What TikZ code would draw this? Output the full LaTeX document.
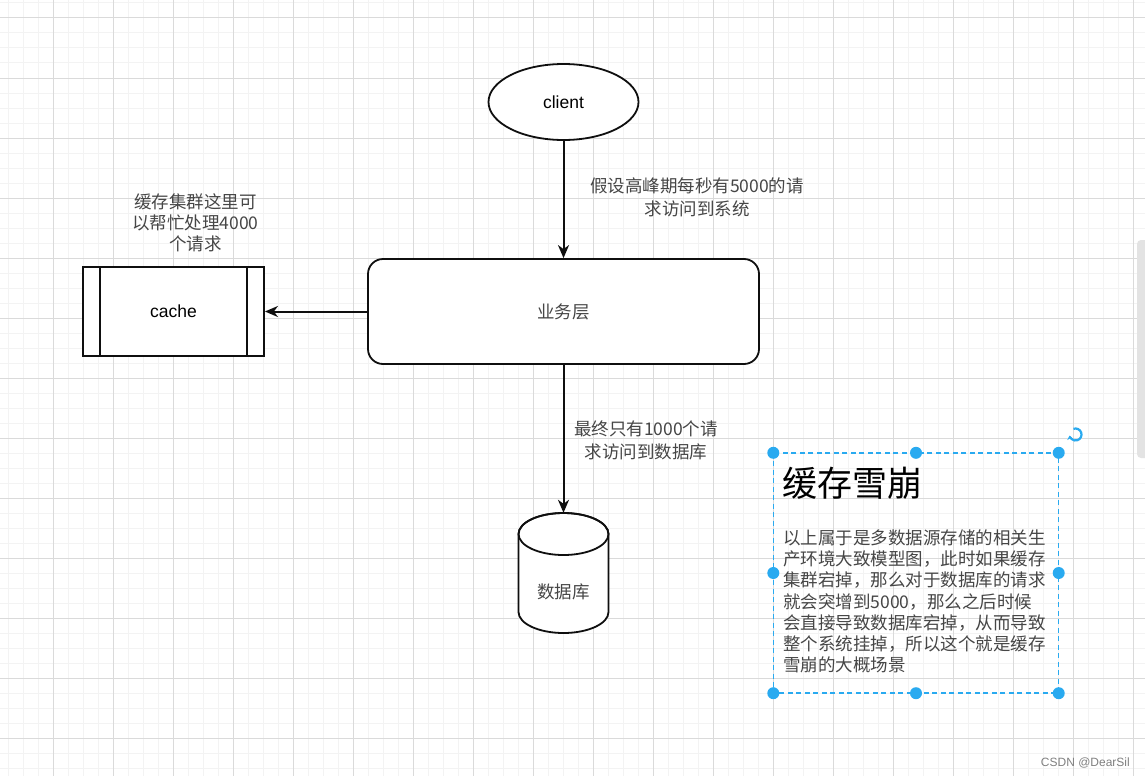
\documentclass[tikz,border=0pt]{standalone}
\usepackage{fontspec}
\setmainfont{Liberation Sans}
\newfontfamily\cjk{Noto Sans CJK SC}
\usetikzlibrary{shapes.geometric,arrows.meta}
\definecolor{minorgrid}{RGB}{243,243,243}
\definecolor{majorgrid}{RGB}{218,218,218}
\definecolor{sel}{RGB}{41,170,240}
\definecolor{lbl}{RGB}{70,70,70}
\definecolor{stroke}{RGB}{15,15,15}
\tikzset{
  minorline/.style={draw=minorgrid, line width=1pt},
  majorline/.style={draw=majorgrid, line width=1pt},
  shapebox/.style={draw=stroke, line width=1.8pt, fill=white},
  conn/.style={draw=stroke, line width=2pt, -{Stealth[length=13pt,width=11pt,inset=4pt]}},
  lbltext/.style={text=lbl, align=center, inner sep=0pt, anchor=base},
  handle/.style={fill=sel},
}
\begin{document}
\begin{tikzpicture}[x=1pt,y=-1pt]
\useasboundingbox (0,0) rectangle (1145,776);
\fill[white] (0,0) rectangle (1145,776);
% grid
\foreach \x in {8,23,...,1140} \draw[minorline] (\x,0) -- (\x,776);
\foreach \y in {3,18,...,775} \draw[minorline] (0,\y) -- (1145,\y);
\foreach \x in {53,113,...,1133} \draw[majorline] (\x,0) -- (\x,776);
\foreach \y in {18,78,...,738} \draw[majorline] (0,\y) -- (1145,\y);
% scrollbar
\fill[gray!22, rounded corners=4pt] (1137,240) rectangle (1150,458);

% client
\node[shapebox, ellipse, minimum width=150, minimum height=76, inner sep=0pt,
      font=\fontsize{17.5}{21}\selectfont] (client) at (563.5,102) {client};
% business layer
\node[shapebox, rounded corners=15pt, minimum width=391, minimum height=105, inner sep=0pt,
      font=\cjk\fontsize{17.5}{21}\selectfont, text=lbl] (biz) at (563.5,311.5) {业务层};
% cache
\node[shapebox, minimum width=181, minimum height=89, inner sep=0pt,
      font=\fontsize{17.5}{21}\selectfont] (cache) at (173.5,311.5) {cache};
\draw[draw=stroke, line width=1.8pt] ([xshift=18pt]cache.north west) -- ([xshift=18pt]cache.south west);
\draw[draw=stroke, line width=1.8pt] ([xshift=-18pt]cache.north east) -- ([xshift=-18pt]cache.south east);
% database cylinder
\node[minimum width=90, minimum height=120, inner sep=0pt] (db) at (563.5,573) {};
\draw[shapebox] (518.5,534) -- (518.5,612) arc[start angle=180, end angle=360, x radius=45pt, y radius=21pt]
      -- (608.5,534) arc[start angle=0, end angle=180, x radius=45pt, y radius=21pt] -- cycle;
\draw[draw=stroke, line width=1.8pt] (563.5,534) ellipse [x radius=45pt, y radius=21pt];
\node[lbltext, font=\cjk\fontsize{17.5}{21}\selectfont] (dbtext) at (563.5,598.5) {数据库};

% connectors
\draw[conn] (client.south) -- (biz.north);
\draw[conn] (biz.west) -- (cache.east);
\draw[conn] (biz.south) -- (db.north);

% labels (base anchor = baseline of last line)
\node[lbltext, font=\cjk\fontsize{17.5}{23}\selectfont] (l1) at (697,215) {假设高峰期每秒有5000的请\\求访问到系统};
\node[lbltext, font=\cjk\fontsize{17.5}{21}\selectfont] (l2) at (195.5,250) {缓存集群这里可\\以帮忙处理4000\\个请求};
\node[lbltext, font=\cjk\fontsize{17.5}{23}\selectfont] (l3) at (646,458.3) {最终只有1000个请\\求访问到数据库};

% text box with selection
\node[inner sep=0pt, minimum width=285, minimum height=240] (tb) at (916,573) {};
\draw[sel, line width=1.5pt, dash pattern=on 5pt off 3.5pt] (tb.north west) rectangle (tb.south east);
\node[anchor=base west, inner sep=0pt, font=\cjk\fontsize{35}{40}\selectfont] (title) at (782,496) {缓存雪崩};
\node[anchor=base west, inner sep=0pt, align=left, text=lbl, font=\cjk\fontsize{17.5}{21.2}\selectfont] (body) at (783,671.6)
 {以上属于是多数据源存储的相关生\\产环境大致模型图，此时如果缓存\\集群宕掉，那么对于数据库的请求\\就会突增到5000，那么之后时候\\会直接导致数据库宕掉，从而导致\\整个系统挂掉，所以这个就是缓存\\雪崩的大概场景};
\foreach \p in {north west,north,north east,west,east,south west,south,south east}
  \fill[handle] (tb.\p) circle[radius=6pt];
% rotate icon
\coordinate (rot) at (1075.5,434.5);
\draw[sel, line width=2.2pt, -{Stealth[length=4pt,width=6pt]}] ([shift={(110:6pt)}]rot) arc[start angle=110, end angle=-170, radius=6pt];

% watermark
\node[anchor=base east, inner sep=0pt, text=gray, font=\fontsize{12}{14}\selectfont] (wm) at (1130,766) {CSDN @DearSil};
\end{tikzpicture}
\end{document}
